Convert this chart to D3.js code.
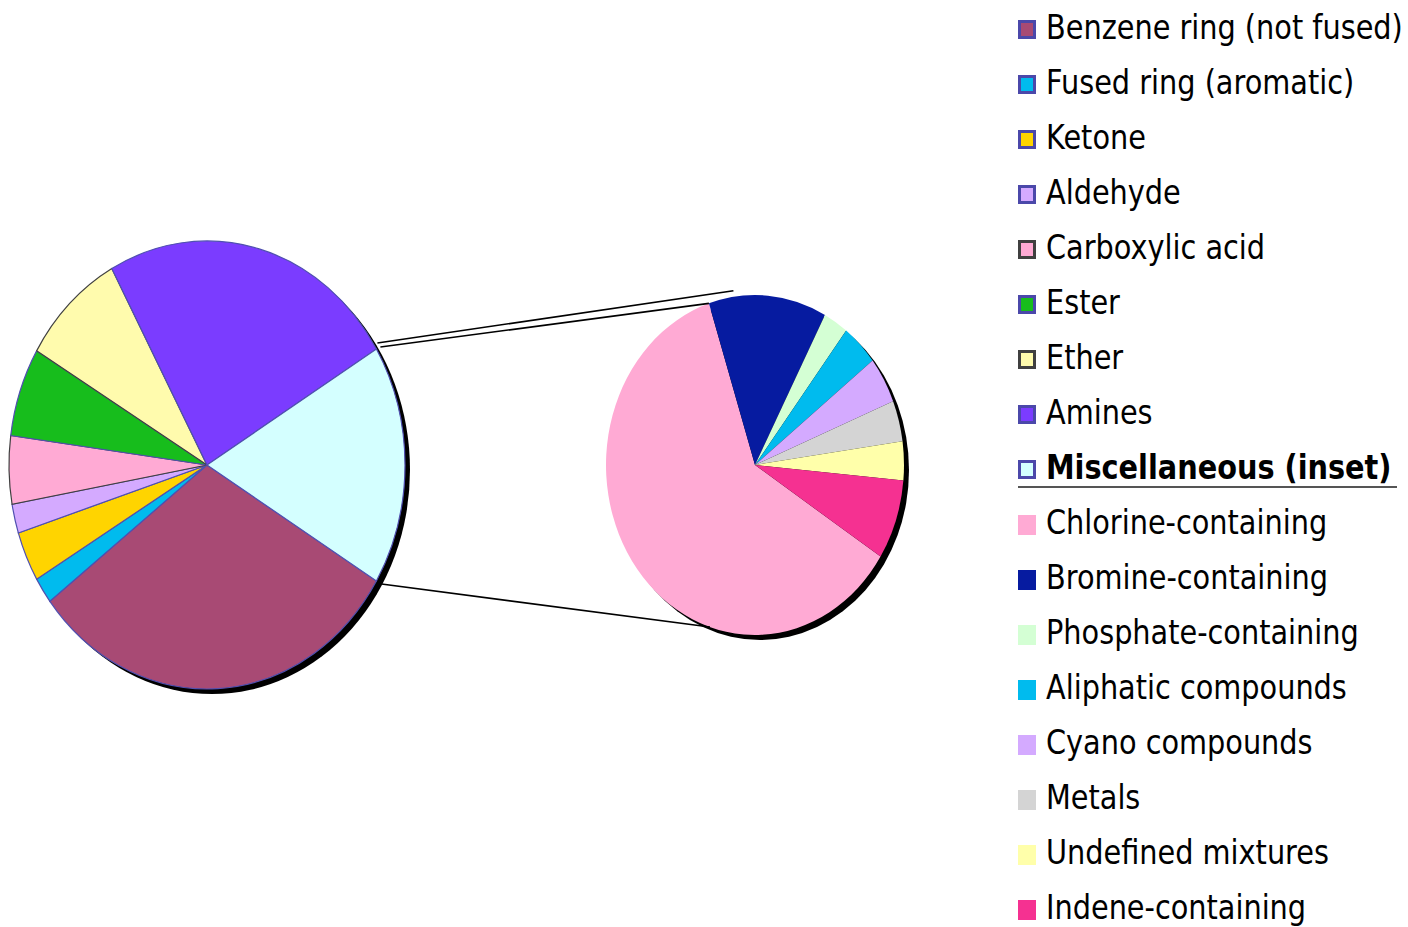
<!DOCTYPE html>
<html>
<head>
<meta charset="utf-8">
<script src="https://d3js.org/d3.v7.min.js"></script>
<style>
  html, body { margin: 0; padding: 0; background: #fff; }
  svg { display: block; font-family: 'DejaVu Sans', sans-serif; }
</style>
</head>
<body>
<div id="chart"></div>
<script>
// main pie (% of total)
const mainLabels = ['Benzene ring (not fused)', 'Fused ring (aromatic)', 'Ketone', 'Aldehyde',
  'Carboxylic acid', 'Ester', 'Ether', 'Amines', 'Miscellaneous (inset)']
const mainValues = [30.9, 1.9, 3.6, 2.1, 4.9, 6.4, 8.5, 24.3, 17.3]
const mainColors = ['#A84A74', '#00BBEE', '#FFD400', '#D4AAFF', '#FFAAD4', '#17BD1C', '#FFFBAD', '#7B3CFF', '#D4FFFF']
const mainStrokes = ['#5050B0', '#5050B0', '#5050B0', '#5050B0', '#404040', '#5050B0', '#404040', '#5050B0', '#5050B0']

// inset pie (breakdown of Miscellaneous)
const insetLabels = ['Chlorine-containing', 'Bromine-containing', 'Phosphate-containing', 'Aliphatic compounds',
  'Cyano compounds', 'Metals', 'Undefined mixtures', 'Indene-containing']
const insetValues = [61.0, 12.8, 2.7, 4.0, 4.4, 3.9, 3.7, 7.6]
const insetColors = ['#FFAAD4', '#061BA0', '#D4FFD4', '#00BBEE', '#D4AAFF', '#D4D4D4', '#FFFFAA', '#F53191']

const W = 1408, H = 927
const svg = d3.select('#chart').append('svg').attr('width', W).attr('height', H)

const deg = Math.PI / 180
const main = {cx: 207, cy: 465, rx: 198, ry: 224}
const inset = {cx: 755, cy: 465, rx: 149, ry: 170}

// start so the Misc slice is centred on the right
const total = d3.sum(mainValues)
const miscSpan = mainValues[mainValues.length - 1] / total * 2 * Math.PI
const mainStart = Math.PI / 2 + miscSpan / 2
const insetStart = 122.6 * deg

function drawPie(p, values, colors, strokes, start) {
  const arcs = d3.pie().sort(null).startAngle(start).endAngle(start + 2 * Math.PI)(values)
  const arc = d3.arc().innerRadius(0).outerRadius(p.rx)
  const k = p.ry / p.rx
  // shadow
  svg.append('ellipse')
    .attr('cx', p.cx + 5).attr('cy', p.cy + 5)
    .attr('rx', p.rx).attr('ry', p.ry)
    .attr('fill', '#000')
  const g = svg.append('g').attr('transform', `translate(${p.cx},${p.cy}) scale(1,${k})`)
  g.selectAll('path').data(arcs).enter().append('path')
    .attr('d', arc)
    .attr('fill', (d, i) => colors[i])
    .attr('stroke', (d, i) => strokes ? strokes[i] : 'none')
    .attr('stroke-width', 1.2)
    .attr('vector-effect', 'non-scaling-stroke')
  return arcs
}

function pt(p, a, extra) {
  const e = extra || 0
  return [p.cx + (p.rx + e) * Math.sin(a), p.cy - (p.ry + e) * Math.cos(a)]
}

const mainArcs = drawPie(main, mainValues, mainColors, mainStrokes, mainStart)
const insetArcs = drawPie(inset, insetValues, insetColors, null, insetStart)

// connector lines
const misc = mainArcs[mainArcs.length - 1]
const topA = pt(main, misc.startAngle - 2 * Math.PI, 0)
const botA = pt(main, misc.endAngle - 2 * Math.PI, 6)
const topB = pt(inset, insetArcs[0].endAngle - 2 * Math.PI, 0)
const topB2 = pt(inset, -8 * deg, 6)
const botB = pt(inset, 197.6 * deg, 0)

const line = d3.line()
svg.append('path').attr('d', line([[topA[0] + 1, topA[1] - 6], topB2])).attr('stroke', '#000').attr('stroke-width', 1.6).attr('fill', 'none')
svg.append('path').attr('d', line([[topA[0] + 4, topA[1] - 2], topB])).attr('stroke', '#000').attr('stroke-width', 1.6).attr('fill', 'none')
svg.append('path').attr('d', line([botA, botB])).attr('stroke', '#000').attr('stroke-width', 1.6).attr('fill', 'none')

// legend
const legend = svg.append('g')
const rowH = 55, top0 = 39, boxX = 1018, textX = 1046
const items = mainLabels.map((t, i) => ({t, fill: mainColors[i], border: mainStrokes[i] === '#404040' ? '#404040' : '#4B48AA', bold: i === mainLabels.length - 1}))
  .concat(insetLabels.map((t, i) => ({t, fill: insetColors[i], border: null, bold: false})))

items.forEach((d, i) => {
  const y = top0 + i * rowH
  if (d.border) {
    legend.append('rect').attr('x', boxX + 1.5).attr('y', y - 17.5).attr('width', 15).attr('height', 16)
      .attr('fill', d.fill).attr('stroke', d.border).attr('stroke-width', 3)
  } else {
    legend.append('rect').attr('x', boxX).attr('y', y - 19).attr('width', 18).attr('height', 20).attr('fill', d.fill)
  }
  legend.append('text')
    .attr('class', 'lab')
    .attr('transform', `translate(${textX},${y})`)
    .attr('font-size', 33)
    .attr('font-weight', d.bold ? 'bold' : 'normal')
    .attr('fill', '#000')
    .text(d.t)
})

// squeeze the text to the narrow face in the picture
const labs = legend.selectAll('text.lab')
const w0 = labs.nodes()[0].getComputedTextLength()
const sx = 357 / w0
labs.attr('transform', function (d, i) {
  return `translate(${textX},${top0 + i * rowH}) scale(${sx},1)`
})

// underline under the Misc entry
const uy = top0 + (mainLabels.length - 1) * rowH + 8
legend.append('line').attr('x1', boxX).attr('x2', 1397).attr('y1', uy).attr('y2', uy)
  .attr('stroke', '#555').attr('stroke-width', 2)
</script>
</body>
</html>
